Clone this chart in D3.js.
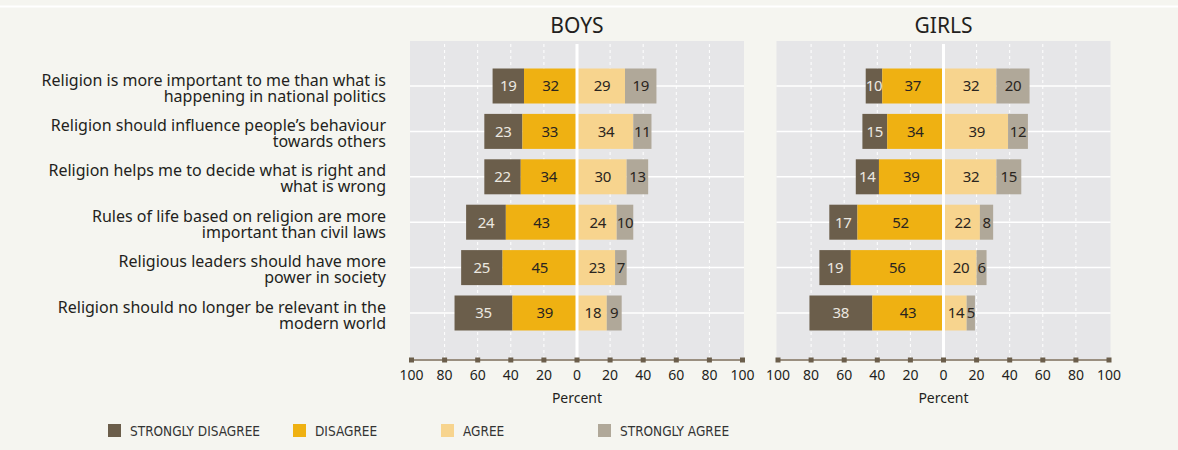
<!DOCTYPE html>
<html>
<head>
<meta charset="utf-8">
<script src="https://cdn.jsdelivr.net/npm/d3@7"></script>
<style>
  body { margin: 0; background: #f5f5f0; }
  svg { display: block; }
  text { font-family: "Noto Sans", sans-serif; fill: #231f20; }
</style>
</head>
<body>
<div id="chart"></div>
<script>
// DATA
const statements = [
    ["Religion is more important to me than what is", "happening in national politics"],
    ["Religion should influence people\u2019s behaviour", "towards others"],
    ["Religion helps me to decide what is right and", "what is wrong"],
    ["Rules of life based on religion are more", "important than civil laws"],
    ["Religious leaders should have more", "power in society"],
    ["Religion should no longer be relevant in the", "modern world"]
];
const categories = ["STRONGLY DISAGREE", "DISAGREE", "AGREE", "STRONGLY AGREE"];
const colors = ["#6b5e4b", "#efb112", "#f7d48e", "#b0a899"];
const boysValues = [
    [19, 32, 29, 19],
    [23, 33, 34, 11],
    [22, 34, 30, 13],
    [24, 43, 24, 10],
    [25, 45, 23, 7],
    [35, 39, 18, 9]
];
const girlsValues = [
    [10, 37, 32, 20],
    [15, 34, 39, 12],
    [14, 39, 32, 15],
    [17, 52, 22, 8],
    [19, 56, 20, 6],
    [38, 43, 14, 5]
];
const tickValues = [-100, -80, -60, -40, -20, 0, 20, 40, 60, 80, 100];

// SVG
const W = 1178, H = 450;
const svg = d3.select("#chart").append("svg")
    .attr("width", W)
    .attr("height", H);

svg.append("rect").attr("width", W).attr("height", H).attr("fill", "#f5f5f0");
svg.append("line")
    .attr("x1", 0).attr("x2", W).attr("y1", 6.5).attr("y2", 6.5)
    .attr("stroke", "#ffffff").attr("stroke-width", 2);

const panelTop = 41, axisY = 360;
const ys = d3.scalePoint()
    .domain(d3.range(statements.length))
    .range([86, 313]);
const barH = 35;

// left labels (two lines each)
const lab = svg.append("g").selectAll("text")
    .data(statements)
    .enter().append("text")
    .attr("text-anchor", "end")
    .style("font-size", "16px");
lab.append("tspan").attr("x", 386).attr("y", (d, i) => ys(i) - 0.5).text(d => d[0]);
lab.append("tspan").attr("x", 386).attr("y", (d, i) => ys(i) + 15.5).text(d => d[1]);

function drawPanel(title, values, x0, x1) {
    const xs = d3.scaleLinear().domain([-100, 100]).range([x0, x1]);
    const g = svg.append("g");

    // panel background
    g.append("rect")
        .attr("x", xs(-100) - 1.5).attr("y", panelTop)
        .attr("width", xs(100) - xs(-100) + 3).attr("height", axisY - panelTop)
        .attr("fill", "#e6e6e8");

    // dashed gridlines
    g.selectAll("line.v")
        .data(tickValues.filter(t => t !== 0 && Math.abs(t) !== 100))
        .enter().append("line")
        .attr("x1", d => xs(d)).attr("x2", d => xs(d))
        .attr("y1", panelTop + 3).attr("y2", axisY)
        .attr("stroke", "#ffffff").attr("stroke-width", 1)
        .attr("stroke-dasharray", "3,3");

    // horizontal lines
    g.selectAll("line.h")
        .data(values)
        .enter().append("line")
        .attr("x1", xs(-100) - 1.5).attr("x2", xs(100) + 1.5)
        .attr("y1", (d, i) => ys(i)).attr("y2", (d, i) => ys(i))
        .attr("stroke", "#ffffff").attr("stroke-width", 1.5);

    // bars
    values.forEach((v, i) => {
        const segs = [
            { k: 0, a: -(v[0] + v[1]), b: -v[1], v: v[0] },
            { k: 1, a: -v[1], b: 0, v: v[1] },
            { k: 2, a: 0, b: v[2], v: v[2] },
            { k: 3, a: v[2], b: v[2] + v[3], v: v[3] }
        ];
        const row = g.append("g");
        row.selectAll("rect")
            .data(segs)
            .enter().append("rect")
            .attr("x", d => xs(d.a))
            .attr("y", ys(i) - barH / 2)
            .attr("width", d => xs(d.b) - xs(d.a))
            .attr("height", barH)
            .attr("fill", d => colors[d.k]);
        row.selectAll("text")
            .data(segs)
            .enter().append("text")
            .attr("x", d => (xs(d.a) + xs(d.b)) / 2 + (d.k === 2 ? 1 : 0))
            .attr("y", ys(i))
            .attr("dy", "0.36em")
            .attr("text-anchor", "middle")
            .style("font-size", "15px")
            .style("letter-spacing", "-0.3px")
            .style("fill", d => d.k === 0 ? "#ece8e0" : "#2a2520")
            .text(d => d.v);
    });

    // centre line
    g.append("line")
        .attr("x1", xs(0)).attr("x2", xs(0))
        .attr("y1", panelTop + 3).attr("y2", axisY)
        .attr("stroke", "#ffffff").attr("stroke-width", 3);

    // axis
    g.append("line")
        .attr("x1", xs(-100)).attr("x2", xs(100))
        .attr("y1", axisY).attr("y2", axisY)
        .attr("stroke", "#9a8f80").attr("stroke-width", 2);
    g.selectAll("rect.tick")
        .data(tickValues)
        .enter().append("rect")
        .attr("x", d => xs(d) - 2.5).attr("y", axisY - 2.5)
        .attr("width", 5).attr("height", 5)
        .attr("fill", "#6b5e4b");
    g.selectAll("text.tick")
        .data(tickValues)
        .enter().append("text")
        .attr("x", d => xs(d))
        .attr("y", axisY + 20)
        .attr("text-anchor", "middle")
        .style("font-size", "14px")
        .text(d => Math.abs(d));

    g.append("text")
        .attr("x", xs(0)).attr("y", axisY + 43)
        .attr("text-anchor", "middle")
        .style("font-size", "14px")
        .text("Percent");

    g.append("text")
        .attr("x", xs(0)).attr("y", 33)
        .attr("text-anchor", "middle")
        .style("font-size", "21px")
        .text(title);
}

drawPanel("BOYS", boysValues, 411.5, 742.5);
drawPanel("GIRLS", girlsValues, 778, 1109);

// LEGEND
const legendX = [108, 293, 441, 598];
const legend = svg.append("g").selectAll("g")
    .data(categories)
    .enter().append("g");
legend.append("rect")
    .attr("x", (d, i) => legendX[i]).attr("y", 424)
    .attr("width", 13).attr("height", 13)
    .attr("fill", (d, i) => colors[i]);
legend.append("text")
    .attr("x", (d, i) => legendX[i] + 22).attr("y", 435.5)
    .style("font-family", "'Liberation Sans Narrow', 'DejaVu Sans Condensed', sans-serif")
    .style("font-size", "13.5px")
    .style("fill", "#333")
    .text(d => d);
</script>
</body>
</html>
